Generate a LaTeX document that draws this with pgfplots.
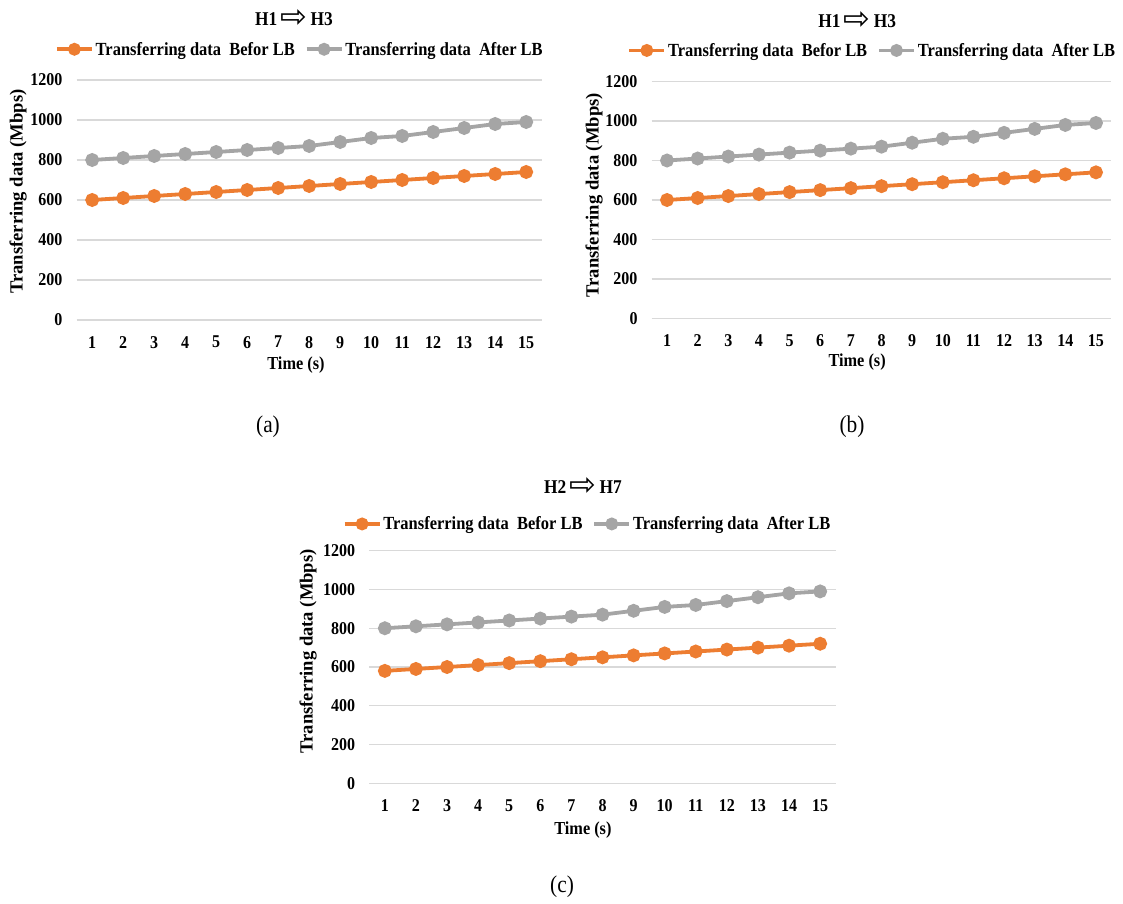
\documentclass[border=0pt]{standalone}
\usepackage{fontspec}
\setmainfont{Liberation Serif}[FakeStretch=0.89]
\newfontfamily\ylfont{Liberation Serif}
\newfontfamily\arrowfont{DejaVu Sans}
\usepackage{pgfplots}
\usepackage{pgfplotstable}
\pgfplotsset{compat=1.18}
\definecolor{exorange}{HTML}{ED7D31}
\definecolor{exgray}{HTML}{A5A5A5}
\definecolor{gridc}{HTML}{D9D9D9}

\pgfplotstableread{
t before after
1 600 800
2 610 810
3 620 820
4 630 830
5 640 840
6 650 850
7 660 860
8 670 870
9 680 890
10 690 910
11 700 920
12 710 940
13 720 960
14 730 980
15 740 990
}\dataA

\pgfplotstableread{
t before after
1 600 800
2 610 810
3 620 820
4 630 830
5 640 840
6 650 850
7 660 860
8 670 870
9 680 890
10 690 910
11 700 920
12 710 940
13 720 960
14 730 980
15 740 990
}\dataB

\pgfplotstableread{
t before after
1 580 800
2 590 810
3 600 820
4 610 830
5 620 840
6 630 850
7 640 860
8 650 870
9 660 890
10 670 910
11 680 920
12 690 940
13 700 960
14 710 980
15 720 990
}\dataC

\newcommand{\ttl}[2]{\bfseries\fontsize{19.5}{19.5}\selectfont #1\,\raisebox{-0.1em}{\arrowfont\mdseries\fontsize{32}{32}\selectfont ⇨}\,#2}

\pgfplotsset{
  excel/.style={
    scale only axis,
    xmin=0.5, xmax=15.5,
    ymin=0, ymax=1200,
    xtick={1,...,15},
    ytick={0,200,...,1200},
    ymajorgrids,
    grid style={draw=gridc, line width=1.3pt},
    axis line style={draw=none},
    major tick length=0pt,
    /pgf/number format/assume math mode=true,
    /pgf/number format/1000 sep={},
    ticklabel style={font=\bfseries\fontsize{18}{18}\selectfont},
    yticklabel style={inner sep=0pt, xshift=-14pt},
    xticklabel style={inner sep=0pt, yshift=-16pt},
    xlabel style={font=\bfseries\fontsize{18.3}{18.3}\selectfont},
    ylabel style={font=\ylfont\bfseries\fontsize{18.6}{18.6}\selectfont},
    xlabel={Time (s)},
    ylabel={Transferring data (Mbps)},
    legend columns=2,
    legend style={draw=none, fill=none, font=\bfseries\fontsize{18.5}{18.5}\selectfont,
      /tikz/every even column/.append style={column sep=8pt}, inner sep=0pt},
    legend image code/.code={
      \draw[##1, line width=3.6pt, mark=none] (0pt,0pt) -- (35pt,0pt);
      \fill[##1] (17.5pt,0pt) circle (4.5pt);
    },
    every axis plot/.append style={line width=3.8pt, mark=*, mark size=5pt},
  }
}

\begin{document}
\begin{tikzpicture}
\path[use as bounding box] (0,0) rectangle (1123pt,903pt);

% (a)
\begin{axis}[excel,
  at={(76.7pt,583pt)}, anchor=south west,
  width=465pt, height=240pt,
  title={\ttl{H1}{H3}},
  title style={at={(axis description cs:0.467,1.2)}, anchor=base},
  legend style={at={(axis description cs:0.48,1.128)}, anchor=center},
  xlabel style={at={(axis description cs:0.4716,-0.1875)}, anchor=center},
  ylabel style={at={(axis description cs:-0.126,0.535)}, anchor=center},
]
\addplot[color=exorange] table[x=t,y=before]{\dataA};
\addlegendentry{Transferring data\ \ Befor LB}
\addplot[color=exgray] table[x=t,y=after]{\dataA};
\addlegendentry{Transferring data\ \ After LB}
\end{axis}

% (b)
\begin{axis}[excel,
  at={(651.7pt,584.5pt)}, anchor=south west,
  width=459.6pt, height=237pt,
  title={\ttl{H1}{H3}},
  title style={at={(axis description cs:0.447,1.202)}, anchor=base},
  legend style={at={(axis description cs:0.48,1.131)}, anchor=center},
  xlabel style={at={(axis description cs:0.447,-0.1835)}, anchor=center},
  ylabel style={at={(axis description cs:-0.1255,0.52)}, anchor=center},
]
\addplot[color=exorange] table[x=t,y=before]{\dataB};
\addlegendentry{Transferring data\ \ Befor LB}
\addplot[color=exgray] table[x=t,y=after]{\dataB};
\addlegendentry{Transferring data\ \ After LB}
\end{axis}

% (c)
\begin{axis}[excel,
  at={(369.3pt,119.7pt)}, anchor=south west,
  width=466.4pt, height=232.6pt,
  title={\ttl{H2}{H7}},
  title style={at={(axis description cs:0.458,1.218)}, anchor=base},
  legend style={at={(axis description cs:0.468,1.115)}, anchor=center},
  xlabel style={at={(axis description cs:0.458,-0.2)}, anchor=center},
  ylabel style={at={(axis description cs:-0.131,0.567)}, anchor=center},
]
\addplot[color=exorange] table[x=t,y=before]{\dataC};
\addlegendentry{Transferring data\ \ Befor LB}
\addplot[color=exgray] table[x=t,y=after]{\dataC};
\addlegendentry{Transferring data\ \ After LB}
\end{axis}

\node[font=\fontsize{24}{24}\selectfont] at (268pt,476pt) {(a)};
\node[font=\fontsize{24}{24}\selectfont] at (852pt,476pt) {(b)};
\node[font=\fontsize{24}{24}\selectfont] at (562pt,16pt) {(c)};
\end{tikzpicture}
\end{document}
